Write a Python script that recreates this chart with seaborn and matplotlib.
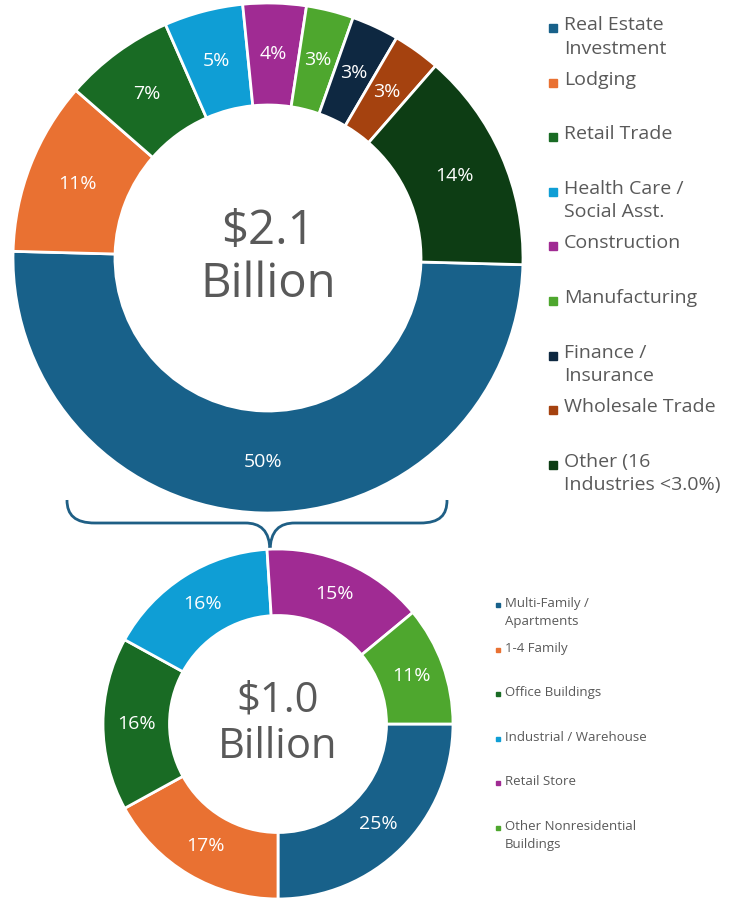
import matplotlib
matplotlib.use('Agg')
import matplotlib.pyplot as plt
from matplotlib.path import Path
from matplotlib.patches import PathPatch
import seaborn as sns

# ---- data ----
top_labels = ['Real Estate\nInvestment', 'Lodging', 'Retail Trade', 'Health Care /\nSocial Asst.',
              'Construction', 'Manufacturing', 'Finance /\nInsurance', 'Wholesale Trade',
              'Other (16\nIndustries <3.0%)']
top_shares = [50, 11, 7, 5, 4, 3, 3, 3, 14]
top_colors = ['#18618a', '#e97132', '#196b24', '#0f9ed5', '#a02b93', '#4ea72e',
              '#0e2841', '#a5420f', '#0d3d14']
top_total = '$2.1\nBillion'

bottom_labels = ['Multi-Family /\nApartments', '1-4 Family', 'Office Buildings',
                 'Industrial / Warehouse', 'Retail Store', 'Other Nonresidential\nBuildings']
bottom_shares = [25, 17, 16, 16, 15, 11]
bottom_colors = ['#18618a', '#e97132', '#196b24', '#0f9ed5', '#a02b93', '#4ea72e']
bottom_total = '$1.0\nBillion'

sns.set_theme(style='white')
plt.rcParams['font.family'] = ['Open Sans', 'DejaVu Sans']
TEXT = '#595959'

W, H = 731, 900
fig = plt.figure(figsize=(W / 100, H / 100), dpi=100)


def px_axes(x0, y0, x1, y1):
    # axes from pixel box (top-left origin)
    return fig.add_axes([x0 / W, 1 - y1 / H, (x1 - x0) / W, (y1 - y0) / H])


def donut(ax, shares, colors, width, center_text, center_size, pct_size, start):
    ax.pie(shares, colors=colors, startangle=start, counterclock=False,
           radius=1, autopct=lambda p: f'{p:.0f}%', pctdistance=1 - width / 2,
           wedgeprops=dict(width=width, edgecolor='white', linewidth=2),
           textprops=dict(color='white', fontsize=pct_size))
    ax.text(0, 0, center_text, ha='center', va='center', fontsize=center_size,
            color=TEXT, linespacing=1.15)
    ax.set_xlim(-1, 1)
    ax.set_ylim(-1, 1)
    ax.set_aspect('equal')
    ax.axis('off')


# top donut
ax1 = px_axes(13, 3, 523, 513)
donut(ax1, top_shares, top_colors, 0.4, top_total, 34, 14, -1.5)

# bottom donut
ax2 = px_axes(103, 549, 453, 899)
donut(ax2, bottom_shares, bottom_colors, 0.38, bottom_total, 30, 14, 0)

# overlay for brace and legends
ov = fig.add_axes([0, 0, 1, 1], zorder=-1)
ov.set_xlim(0, W)
ov.set_ylim(H, 0)
ov.axis('off')

verts = [(67, 500), (67, 515), (75, 523), (95, 523),
         (245, 523),
         (260, 523), (270, 530), (270, 552),
         (270, 530), (280, 523), (295, 523),
         (420, 523),
         (440, 523), (447, 515), (447, 500)]
codes = [Path.MOVETO, Path.CURVE4, Path.CURVE4, Path.CURVE4,
         Path.LINETO,
         Path.CURVE4, Path.CURVE4, Path.CURVE4,
         Path.CURVE4, Path.CURVE4, Path.CURVE4,
         Path.LINETO,
         Path.CURVE4, Path.CURVE4, Path.CURVE4]
ov.add_patch(PathPatch(Path(verts, codes), facecolor='none', edgecolor='#1f5f85', lw=2))

# top legend
for i, (lab, col) in enumerate(zip(top_labels, top_colors)):
    y = 16 + i * 54.6
    ov.plot(553, y + 12, marker='s', ms=6, color=col, ls='none')
    ov.text(564, y, lab, ha='left', va='top', fontsize=14, color=TEXT, linespacing=1.4)

# bottom legend
for i, (lab, col) in enumerate(zip(bottom_labels, bottom_colors)):
    y = 597 + i * 44.6
    ov.plot(498, y + 8, marker='s', ms=3, color=col, ls='none')
    ov.text(505, y, lab, ha='left', va='top', fontsize=9.5, color=TEXT, linespacing=1.5)

fig.savefig('out.png', dpi=100)
